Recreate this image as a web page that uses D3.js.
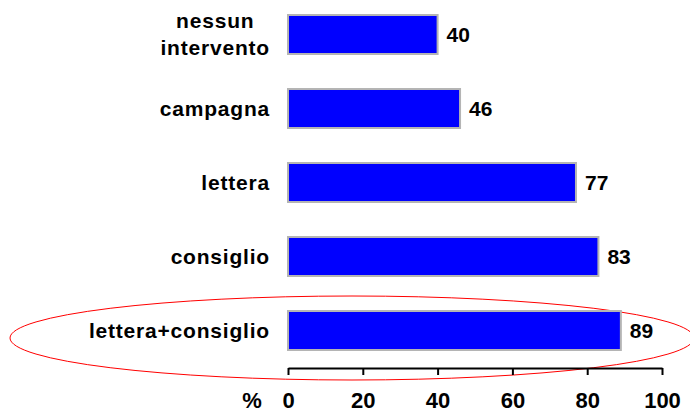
<!DOCTYPE html>
<html>
<head>
<meta charset="utf-8">
<script src="https://cdn.jsdelivr.net/npm/d3@7"></script>
<style>
body { margin: 0; background: #fff; }
svg text { font-family: "Liberation Sans", Arial, sans-serif; font-weight: bold; fill: #000; }
</style>
</head>
<body>
<svg id="chart"></svg>
<script>
var width = 690;
var height = 414;

var categories = ["nessun\nintervento", "campagna", "lettera", "consiglio", "lettera+consiglio"];
var values = [40, 46, 77, 83, 89];
var tickValues = [0, 20, 40, 60, 80, 100];

var svg = d3.select("#chart")
    .attr("width", width)
    .attr("height", height);

var x = d3.scaleLinear().domain([0, 100]).range([288, 662]);
var y = d3.scaleBand().domain(categories).range([0, 365]).paddingInner(0.473).paddingOuter(0.2027);

// highlight ellipse
svg.append("ellipse")
    .attr("cx", 352)
    .attr("cy", 338)
    .attr("rx", 342)
    .attr("ry", 42)
    .style("fill", "none")
    .style("stroke", "red")
    .style("stroke-width", 1);

svg.selectAll(".bar")
    .data(values)
    .enter()
    .append("rect")
    .attr("class", "bar")
    .attr("x", x(0))
    .attr("y", function (d, i) { return y(categories[i]); })
    .attr("width", function (d) { return x(d) - x(0); })
    .attr("height", y.bandwidth())
    .style("fill", "#0000ff")
    .style("stroke", "#b4b4b4")
    .style("stroke-width", 2);

svg.selectAll(".val")
    .data(values)
    .enter()
    .append("text")
    .attr("x", function (d) { return x(d) + 9; })
    .attr("y", function (d, i) { return y(categories[i]) + y.bandwidth() / 2; })
    .attr("dy", "0.35em")
    .style("font-size", "21px")
    .text(function (d) { return d; });

// category labels, right edge at 270, multi-line ones centred on each other
svg.selectAll(".cat")
    .data(categories)
    .enter()
    .append("g")
    .attr("class", "cat")
    .each(function (d) {
        var lines = d.split("\n");
        var cy = y(d) + y.bandwidth() / 2;
        var g = d3.select(this);
        var texts = lines.map(function (line, k) {
            return g.append("text")
                .attr("y", cy + (k - (lines.length - 1) / 2) * 27)
                .attr("dy", "0.35em")
                .style("font-size", "21px")
                .style("letter-spacing", "0.8px")
                .text(line);
        });
        var maxW = d3.max(texts, function (t) { return t.node().getComputedTextLength(); });
        texts.forEach(function (t) {
            var w = t.node().getComputedTextLength();
            t.attr("x", 270 - maxW / 2 - w / 2);
        });
    });

var axis = d3.axisBottom(x)
    .tickValues(tickValues)
    .tickSize(7)
    .tickSizeOuter(0)
    .tickPadding(17);

var g = svg.append("g")
    .attr("transform", "translate(0,368)")
    .call(axis);
g.select(".domain").style("stroke", "#000").style("stroke-width", 2);
g.selectAll(".tick line").style("stroke", "#000").style("stroke-width", 2);
g.selectAll(".tick text")
    .style("font-size", "22px")
    .style("font-family", "Liberation Sans, Arial, sans-serif")
    .style("font-weight", "bold");

svg.append("text")
    .attr("x", 252)
    .attr("y", 408)
    .attr("text-anchor", "middle")
    .style("font-size", "22px")
    .text("%");
</script>
</body>
</html>
